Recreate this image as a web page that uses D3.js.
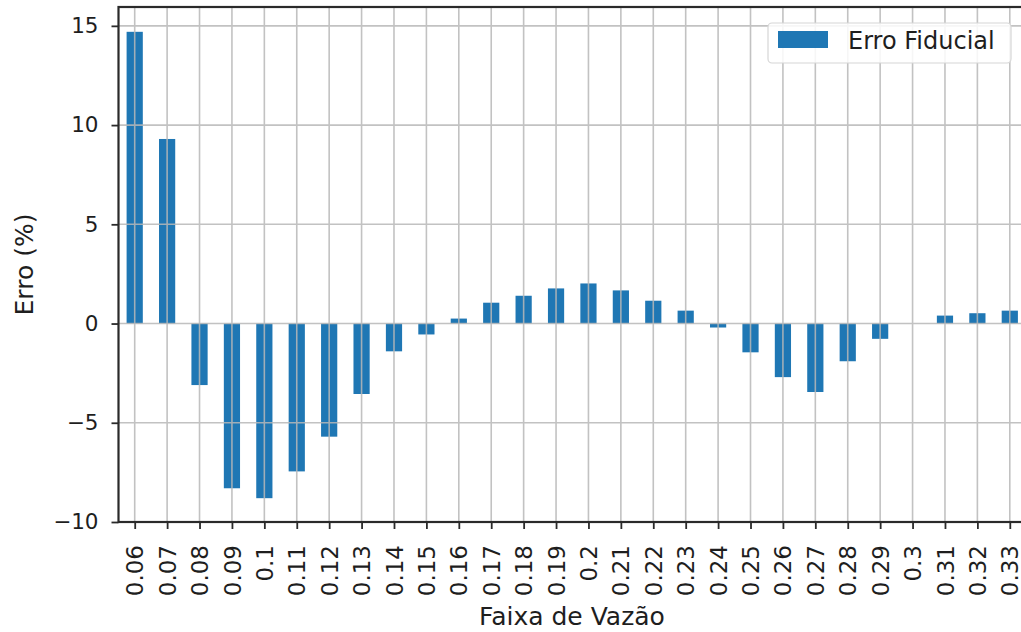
<!DOCTYPE html>
<html>
<head>
<meta charset="utf-8">
<script src="https://cdn.jsdelivr.net/npm/d3@7"></script>
<style>
  html, body { margin: 0; padding: 0; background: #fff; }
  svg { display: block; font-family: "DejaVu Sans", sans-serif; }
</style>
</head>
<body>
<svg id="chart" width="1021" height="632"></svg>
<script>
const categories = ["0.06","0.07","0.08","0.09","0.1","0.11","0.12","0.13","0.14","0.15","0.16","0.17","0.18","0.19","0.2","0.21","0.22","0.23","0.24","0.25","0.26","0.27","0.28","0.29","0.3","0.31","0.32","0.33"];
const erroFiducial = [14.7, 9.3, -3.1, -8.3, -8.8, -7.45, -5.7, -3.55, -1.4, -0.55, 0.25, 1.05, 1.4, 1.77, 2.02, 1.67, 1.15, 0.65, -0.2, -1.45, -2.7, -3.45, -1.9, -0.77, 0, 0.4, 0.52, 0.65];
const yTicks = [-10, -5, 0, 5, 10, 15];
const seriesName = "Erro Fiducial";
const xTitle = "Faixa de Vazão";
const yTitle = "Erro (%)";

(function () {
const svg = d3.select("#chart");
const pLeft = 118.5, pRight = 1026, pTop = 7, pBottom = 522;

const x = d3.scaleBand().domain(categories).range([pLeft, pRight]).paddingInner(0.5).paddingOuter(0.25);
const xc = d3.scalePoint().domain(categories).range([pLeft, pRight]).padding(0.5);
const y = d3.scaleLinear().domain([-10, 15.95]).range([pBottom, pTop]);

const gridColor = "#b8b8b8";
const blue = "#1f77b4";
const spine = "#2a2a2a";
const txt = "#1e1e1e";

// bars
svg.append("g").selectAll("rect").data(erroFiducial).join("rect")
  .attr("x", (d, i) => x(categories[i]))
  .attr("width", x.bandwidth())
  .attr("y", d => y(Math.max(0, d)))
  .attr("height", d => Math.abs(y(d) - y(0)))
  .attr("fill", blue);

// grid (above bars, matplotlib default)
const grid = svg.append("g").attr("stroke", gridColor).attr("stroke-width", 1.6).attr("opacity", 0.85);
grid.selectAll("line.v").data(categories).join("line").attr("class", "v")
  .attr("x1", d => xc(d)).attr("x2", d => xc(d)).attr("y1", pTop).attr("y2", pBottom);
grid.selectAll("line.h").data(yTicks).join("line").attr("class", "h")
  .attr("x1", pLeft).attr("x2", pRight).attr("y1", d => y(d)).attr("y2", d => y(d));

// axes
const yAxis = d3.axisLeft(y).tickValues(yTicks).tickSize(7).tickPadding(13)
  .tickFormat(d => d < 0 ? "\u2212" + Math.abs(d) : String(d));
const gy = svg.append("g").attr("transform", `translate(${pLeft},0)`).call(yAxis);
gy.select(".domain").remove();
gy.selectAll("line").attr("stroke", spine).attr("stroke-width", 1.8);
gy.selectAll("text").attr("font-size", 21.5).attr("fill", txt).attr("font-family", "DejaVu Sans");

const xAxis = d3.axisBottom(xc).tickSize(7).tickPadding(0);
const gx = svg.append("g").attr("transform", `translate(0,${pBottom})`).call(xAxis);
gx.select(".domain").remove();
gx.selectAll("line").attr("stroke", spine).attr("stroke-width", 1.8);
gx.selectAll("text")
  .attr("font-size", 23).attr("fill", txt).attr("font-family", "DejaVu Sans")
  .attr("text-anchor", "end")
  .attr("dy", "0.35em")
  .attr("transform", "translate(0,23) rotate(-90)")
  .attr("x", 0).attr("y", 0);

// spines
svg.append("rect").attr("x", pLeft).attr("y", pTop).attr("width", pRight - pLeft).attr("height", pBottom - pTop)
  .attr("fill", "none").attr("stroke", spine).attr("stroke-width", 2.2);

// titles
svg.append("text").attr("x", 572).attr("y", 625).attr("text-anchor", "middle")
  .attr("font-size", 25).attr("fill", txt).text(xTitle);
svg.append("text").attr("transform", `translate(33,${(pTop + pBottom) / 2}) rotate(-90)`)
  .attr("text-anchor", "middle").attr("font-size", 25).attr("fill", txt).text(yTitle);

// legend
const lg = svg.append("g");
lg.append("rect").attr("x", 768).attr("y", 23).attr("width", 243).attr("height", 40).attr("rx", 4)
  .attr("fill", "#fff").attr("fill-opacity", 0.85).attr("stroke", "#d6d6d6").attr("stroke-width", 1.2);
lg.append("rect").attr("x", 778).attr("y", 31).attr("width", 50).attr("height", 17).attr("fill", blue);
lg.append("text").attr("x", 848).attr("y", 49).attr("font-size", 24).attr("fill", txt).text(seriesName);
})();
</script>
</body>
</html>
